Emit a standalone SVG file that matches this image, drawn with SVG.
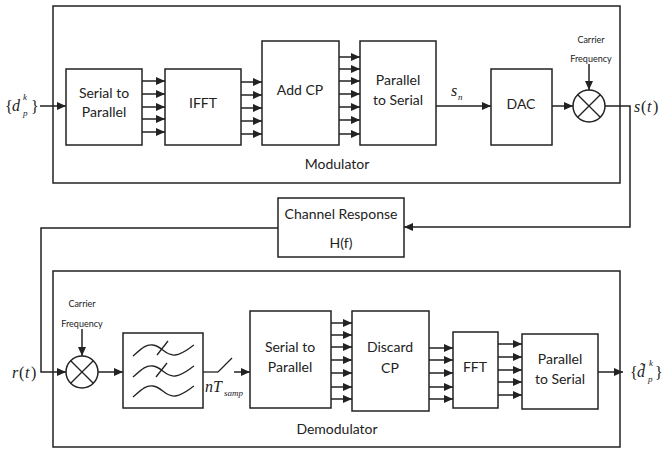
<svg xmlns="http://www.w3.org/2000/svg" width="667" height="453" viewBox="0 0 667 453">
<style>
.box{fill:#fff;stroke:#222;stroke-width:1.5}
.frame{fill:none;stroke:#222;stroke-width:1.5}
.t{font-family:Lato,"Liberation Sans",sans-serif;font-size:14px;fill:#222;text-anchor:middle}
.s{font-family:Lato,"Liberation Sans",sans-serif;font-size:9px;fill:#222;text-anchor:middle}
.m{font-family:"Liberation Serif",serif;font-style:italic;font-size:16px;fill:#222}
.mn{font-family:"Liberation Serif",serif;font-size:16px;fill:#222}
.ms{font-family:"Liberation Serif",serif;font-style:italic;font-size:9px;fill:#222}
.c line,.c path,.c polyline{fill:none;stroke:#222;stroke-width:1.5}
.arr{marker-end:url(#ah)}
.ic{fill:none;stroke:#222;stroke-width:1.3}
</style>
<defs>
<marker id="ah" markerWidth="9" markerHeight="8" refX="9" refY="4" orient="auto" markerUnits="userSpaceOnUse"><path d="M0,0 L9,4 L0,8 z" fill="#222"/></marker>
</defs>

<g id="modulator"><rect class="frame" x="53" y="6" width="567" height="177"/><text class="t" x="337" y="169">Modulator</text></g>
<g id="demodulator"><rect class="frame" x="53" y="271" width="567" height="176"/><text class="t" x="337" y="434">Demodulator</text></g>

<g id="input-d"><text class="mn" x="5" y="112" font-size="18">{</text><text class="m" x="12" y="111">d</text><text class="ms" x="23" y="100">k</text><text class="ms" x="23" y="116">p</text><text class="mn" x="31" y="112" font-size="18">}</text></g>

<g id="mod-s2p"><rect class="box" x="66" y="69" width="76" height="76"/><text class="t" x="104" y="98">Serial to</text><text class="t" x="104" y="117">Parallel</text></g>
<g id="ifft"><rect class="box" x="165" y="69" width="76" height="76"/><text class="t" x="203" y="108">IFFT</text></g>
<g id="addcp"><rect class="box" x="262" y="41" width="77" height="104"/><text class="t" x="300" y="95">Add CP</text></g>
<g id="mod-p2s"><rect class="box" x="360" y="41" width="76" height="104"/><text class="t" x="398" y="85">Parallel</text><text class="t" x="398" y="105">to Serial</text></g>
<g id="sn"><text class="m" x="451" y="96">s</text><text class="ms" x="458" y="100">n</text></g>
<g id="dac"><rect class="box" x="491" y="69" width="61" height="76"/><text class="t" x="521" y="109">DAC</text></g>
<g id="mod-mixer"><circle class="box" cx="589" cy="106" r="16"/><line class="ic" x1="577.7" y1="94.7" x2="600.3" y2="117.3"/><line class="ic" x1="600.3" y1="94.7" x2="577.7" y2="117.3"/></g>
<g id="mod-carrier"><text class="s" x="591" y="43">Carrier</text><text class="s" x="591" y="62">Frequency</text></g>
<g id="st"><text class="m" x="634" y="112">s</text><text class="mn" x="641" y="112">(</text><text class="m" x="647" y="112">t</text><text class="mn" x="653" y="112">)</text></g>

<g id="channel"><rect class="box" x="278" y="198" width="126" height="59"/><text class="t" x="341" y="219">Channel Response</text><text class="t" x="341" y="248">H(f)</text></g>

<g id="rt"><text class="m" x="12" y="378">r</text><text class="mn" x="19" y="378">(</text><text class="m" x="25" y="378">t</text><text class="mn" x="31" y="378">)</text></g>
<g id="dem-mixer"><circle class="box" cx="82" cy="372" r="16"/><line class="ic" x1="70.7" y1="360.7" x2="93.3" y2="383.3"/><line class="ic" x1="93.3" y1="360.7" x2="70.7" y2="383.3"/></g>
<g id="dem-carrier"><text class="s" x="82" y="307">Carrier</text><text class="s" x="82" y="327">Frequency</text></g>
<g id="filter"><rect class="box" x="123" y="333" width="80" height="75"/>
<path class="ic" d="M133,356 C142,348 146,344 153,345 C162,346 165,356 175,355 C183,354 188,349 194,345"/>
<line class="ic" x1="157" y1="355" x2="168" y2="341"/>
<path class="ic" d="M133,377 C142,369 146,365 153,366 C162,367 165,377 175,376 C183,375 188,370 194,366"/>
<line class="ic" x1="156" y1="377" x2="167" y2="363"/>
<path class="ic" d="M133,397 C142,389 146,385 153,386 C162,387 165,397 175,396 C183,395 188,390 194,386"/>
</g>
<g id="sampler"><line class="ic" x1="203" y1="372" x2="218" y2="372" stroke-width="1.5"/><line class="ic" x1="218" y1="372" x2="232" y2="358" stroke-width="1.5"/><text class="m" x="205" y="392">nT</text><text class="ms" x="224" y="396">samp</text></g>
<g id="dem-s2p"><rect class="box" x="250" y="311" width="81" height="97"/><text class="t" x="290" y="352">Serial to</text><text class="t" x="290" y="372">Parallel</text></g>
<g id="discardcp"><rect class="box" x="352" y="311" width="77" height="100"/><text class="t" x="390" y="352">Discard</text><text class="t" x="390" y="373">CP</text></g>
<g id="fft"><rect class="box" x="453" y="332" width="45" height="76"/><text class="t" x="475" y="372">FFT</text></g>
<g id="dem-p2s"><rect class="box" x="522" y="334" width="76" height="75"/><text class="t" x="560" y="364">Parallel</text><text class="t" x="560" y="384">to Serial</text></g>
<g id="output-d"><text class="mn" x="630" y="378">{</text><text class="m" x="637" y="377">d&#x303;</text><text class="ms" x="649" y="366">k</text><text class="ms" x="648" y="382">p</text><text class="mn" x="655" y="378">}</text></g>

<g id="connectors" class="c">
<line class="arr" x1="40" y1="106" x2="66" y2="106"/>
<line class="arr" x1="142" y1="81" x2="165" y2="81"/>
<line class="arr" x1="142" y1="94" x2="165" y2="94"/>
<line class="arr" x1="142" y1="107" x2="165" y2="107"/>
<line class="arr" x1="142" y1="119" x2="165" y2="119"/>
<line class="arr" x1="142" y1="132" x2="165" y2="132"/>
<line class="arr" x1="241" y1="82" x2="262" y2="82"/>
<line class="arr" x1="241" y1="95" x2="262" y2="95"/>
<line class="arr" x1="241" y1="108" x2="262" y2="108"/>
<line class="arr" x1="241" y1="121" x2="262" y2="121"/>
<line class="arr" x1="241" y1="134" x2="262" y2="134"/>
<line class="arr" x1="339" y1="57" x2="360" y2="57"/>
<line class="arr" x1="339" y1="69" x2="360" y2="69"/>
<line class="arr" x1="339" y1="81" x2="360" y2="81"/>
<line class="arr" x1="339" y1="94" x2="360" y2="94"/>
<line class="arr" x1="339" y1="107" x2="360" y2="107"/>
<line class="arr" x1="339" y1="120" x2="360" y2="120"/>
<line class="arr" x1="339" y1="134" x2="360" y2="134"/>
<line class="arr" x1="436" y1="106" x2="491" y2="106"/>
<line class="arr" x1="552" y1="106" x2="573" y2="106"/>
<line class="arr" x1="589" y1="64" x2="589" y2="90"/>
<polyline class="arr" points="605,106 630,106 630,227 404,227"/>
<polyline class="arr" points="278,228 41,228 41,372 66,372"/>
<line class="arr" x1="82" y1="329" x2="82" y2="356"/>
<line class="arr" x1="98" y1="372" x2="123" y2="372"/>
<line class="arr" x1="234" y1="372" x2="250" y2="372"/>
<line class="arr" x1="331" y1="323" x2="352" y2="323"/>
<line class="arr" x1="331" y1="335" x2="352" y2="335"/>
<line class="arr" x1="331" y1="347" x2="352" y2="347"/>
<line class="arr" x1="331" y1="360" x2="352" y2="360"/>
<line class="arr" x1="331" y1="373" x2="352" y2="373"/>
<line class="arr" x1="331" y1="387" x2="352" y2="387"/>
<line class="arr" x1="331" y1="399" x2="352" y2="399"/>
<line class="arr" x1="429" y1="348" x2="453" y2="348"/>
<line class="arr" x1="429" y1="360" x2="453" y2="360"/>
<line class="arr" x1="429" y1="373" x2="453" y2="373"/>
<line class="arr" x1="429" y1="387" x2="453" y2="387"/>
<line class="arr" x1="429" y1="399" x2="453" y2="399"/>
<line class="arr" x1="498" y1="344" x2="522" y2="344"/>
<line class="arr" x1="498" y1="357" x2="522" y2="357"/>
<line class="arr" x1="498" y1="370" x2="522" y2="370"/>
<line class="arr" x1="498" y1="382" x2="522" y2="382"/>
<line class="arr" x1="498" y1="395" x2="522" y2="395"/>
<line class="arr" x1="598" y1="372" x2="623" y2="372"/>
</g>
</svg>
